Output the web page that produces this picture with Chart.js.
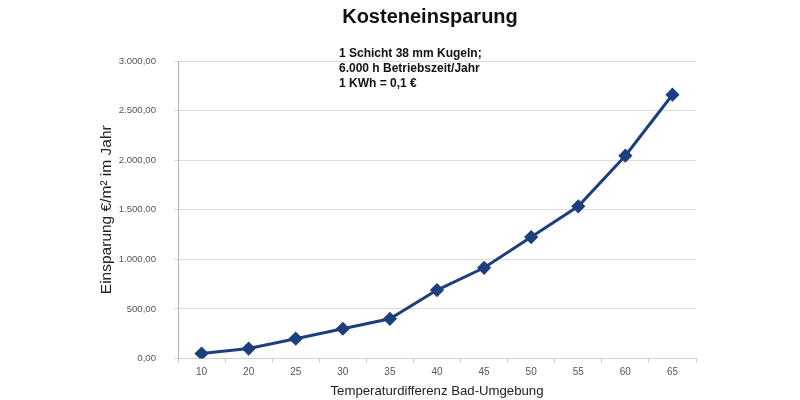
<!DOCTYPE html>
<html>
<head>
<meta charset="utf-8">
<script src="https://cdn.jsdelivr.net/npm/chart.js@4/dist/chart.umd.min.js"></script>
<style>
  html, body { margin: 0; padding: 0; background: #fff; }
  #wrap { width: 800px; height: 400px; }
</style>
</head>
<body>
<div id="wrap"><canvas id="chart"></canvas></div>
<script>
// Kosteneinsparung - values

const temperaturDiff = ['10', '20', '25', '30', '35', '40', '45', '50', '55', '60', '65'];
const einsparung = [50, 100, 200, 300, 400, 690, 915, 1225, 1535, 2045, 2660];
const yTicks = [0, 500, 1000, 1500, 2000, 2500, 3000];

const chartTitle = 'Kosteneinsparung';
const noteLines = ['1 Schicht 38 mm Kugeln;', '6.000 h Betriebszeit/Jahr', '1 KWh = 0,1 €'];

function formatDe(v) {
    return v.toLocaleString('de-DE', { minimumFractionDigits: 2, maximumFractionDigits: 2 });
}

// Title and note block drawn on top of the chart
const textPlugin = {
    id: 'textPlugin',
    afterDraw(chart) {
        const ctx = chart.ctx;
        const area = chart.chartArea;
        ctx.save();
        ctx.fillStyle = '#111';
        ctx.textBaseline = 'middle';
        ctx.textAlign = 'center';
        ctx.font = 'bold 20px "Liberation Sans", Arial, sans-serif';
        ctx.fillText(chartTitle, (area.left + area.right) / 2 - 7, 17);

        ctx.textAlign = 'left';
        ctx.font = 'bold 12px "Liberation Sans", Arial, sans-serif';
        noteLines.forEach((line, i) => {
            ctx.fillText(line, 339, 54 + i * 15);
        });
        ctx.restore();
    }
};

const tickFont = { family: '"Liberation Sans", Arial, sans-serif', size: 9.6 };

const ctx = document.getElementById('chart').getContext('2d');
new Chart(ctx, {
    type: 'line',
    data: {
        labels: temperaturDiff,
        datasets: [{
            data: einsparung,
            borderColor: '#1d3f7e',
            backgroundColor: '#1d3f7e',
            borderWidth: 3,
            pointStyle: 'rectRot',
            pointRadius: 5,
            pointHoverRadius: 5,
            tension: 0
        }]
    },
    options: {
        responsive: true,
        maintainAspectRatio: false,
        animation: false,
        layout: { padding: { left: 94, right: 104, top: 61, bottom: 0 } },
        plugins: {
            legend: { display: false },
            tooltip: { enabled: false }
        },
        scales: {
            x: {
                offset: true,
                afterFit: (s) => { s.height = 41.5; },
                grid: { offset: true, drawOnChartArea: false, drawTicks: true, tickLength: 4, color: '#c8c8c8' },
                border: { color: '#d0d0d0' },
                ticks: { color: '#555', padding: 4, font: { family: '"Liberation Sans", Arial, sans-serif', size: 10 } },
                title: {
                    display: true,
                    text: 'Temperaturdifferenz Bad-Umgebung',
                    color: '#222',
                    padding: { top: 0, bottom: 1 },
                    font: { family: '"Liberation Sans", Arial, sans-serif', size: 13.2 }
                }
            },
            y: {
                min: 0,
                max: 3000,
                afterFit: (s) => { s.width = 84; },
                afterBuildTicks: (s) => { s.ticks = yTicks.map(v => ({ value: v })); },
                grid: { color: '#dcdcdc', lineWidth: 1, tickLength: 4 },
                border: { color: '#b0b0b0' },
                ticks: {
                    color: '#555',
                    padding: 18,
                    font: tickFont,
                    callback: (v) => formatDe(v)
                },
                title: {
                    display: true,
                    text: 'Einsparung €/m² im Jahr',
                    color: '#222',
                    padding: { top: 3, bottom: 0 },
                    font: { family: '"Liberation Sans", Arial, sans-serif', size: 15.5 }
                }
            }
        }
    },
    plugins: [textPlugin]
});
</script>
</body>
</html>
